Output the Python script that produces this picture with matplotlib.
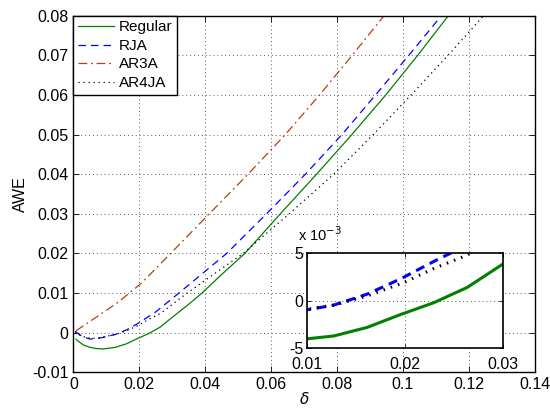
import matplotlib
matplotlib.use("Agg")
import matplotlib.pyplot as plt
from matplotlib.ticker import FuncFormatter

plt.rcParams['font.family'] = ['Liberation Sans', 'DejaVu Sans']
plt.rcParams['mathtext.fontset'] = 'dejavusans'

# ---------------- data ----------------
regular_x = [0.0008, 0.002, 0.003, 0.005, 0.007, 0.009, 0.010, 0.0127, 0.0161, 0.0195,
             0.0229, 0.0263, 0.030, 0.035, 0.039, 0.045, 0.052, 0.0628, 0.0738, 0.0845,
             0.0948, 0.1045, 0.1138]
regular_y = [-0.0017, -0.0025, -0.0031, -0.0037, -0.0040, -0.0041, -0.0040, -0.0037, -0.0028, -0.00145,
             -0.0002, 0.0014, 0.0039, 0.0072, 0.0100, 0.0147, 0.0200, 0.0300, 0.0400, 0.0500,
             0.0600, 0.0700, 0.0800]

rja_x = [0.0005, 0.002, 0.003, 0.005, 0.007, 0.009, 0.010, 0.0127, 0.0161, 0.0195,
         0.0219, 0.0232, 0.0246, 0.0320, 0.0465, 0.0586, 0.0704, 0.0815, 0.0917, 0.1018, 0.1117]
rja_y = [0.0003, -0.0006, -0.0011, -0.0016, -0.0015, -0.0012, -0.00095, -0.00045, 0.0007, 0.0023,
         0.0036, 0.0043, 0.0050, 0.0100, 0.0200, 0.0300, 0.0400, 0.0500, 0.0600, 0.0700, 0.0800]

ar3a_x = [0.0008, 0.0131, 0.0205, 0.0295, 0.0412, 0.0530, 0.0643, 0.0747, 0.0846, 0.0943]
ar3a_y = [0.0005, 0.0074, 0.0124, 0.0200, 0.0300, 0.0400, 0.0500, 0.0600, 0.0700, 0.0800]

ar4ja_x = [0.0005, 0.002, 0.003, 0.005, 0.007, 0.009, 0.010, 0.0127, 0.0161, 0.0198,
           0.0229, 0.0263, 0.0345, 0.0515, 0.0655, 0.0790, 0.0910, 0.1025, 0.1137, 0.1245]
ar4ja_y = [0.0003, -0.0006, -0.0010, -0.0014, -0.0014, -0.0011, -0.0009, -0.00045, 0.0005, 0.0019,
           0.0034, 0.0048, 0.0100, 0.0200, 0.0300, 0.0400, 0.0500, 0.0600, 0.0700, 0.0800]

labels = ['Regular', 'RJA', 'AR3A', 'AR4JA']
x_ticks = [0, 0.02, 0.04, 0.06, 0.08, 0.1, 0.12, 0.14]
y_ticks = [-0.01, 0, 0.01, 0.02, 0.03, 0.04, 0.05, 0.06, 0.07, 0.08]
inset_x_ticks = [0.01, 0.02, 0.03]
inset_y_ticks = [-0.005, 0, 0.005]

# ---------------- styling ----------------
c_green = '#008000'
c_blue = '#0000ff'
c_brown = '#b5400f'
c_black = '#000000'
TICK_FS = 11.5

series = [
    (regular_x, regular_y, c_green, '-'),
    (rja_x, rja_y, c_blue, (0, (6, 4))),
    (ar3a_x, ar3a_y, c_brown, (0, (7, 3, 1.5, 3))),
    (ar4ja_x, ar4ja_y, c_black, (0, (1, 3))),
]

fig = plt.figure(figsize=(5.5, 4.09), dpi=100)
ax = fig.add_axes([0.1336, 0.0897, 0.8385, 0.8719])

for (xs, ys, col, ls), lab in zip(series, labels):
    ax.plot(xs, ys, color=col, linestyle=ls, linewidth=0.9, label=lab)

ax.set_xlim(0, 0.14)
ax.set_ylim(-0.01, 0.08)
ax.set_xticks(x_ticks)
ax.set_yticks(y_ticks)
fmt = FuncFormatter(lambda v, p: '%g' % round(v, 4))
ax.xaxis.set_major_formatter(fmt)
ax.yaxis.set_major_formatter(fmt)
ax.tick_params(direction='in', top=True, right=True, labelsize=TICK_FS, length=4, width=0.6)
ax.grid(True, linestyle=(0, (1, 3)), color='0.35', linewidth=0.7)
for s in ax.spines.values():
    s.set_linewidth(1.0)
ax.set_xlabel(r'$\delta$', fontsize=11, labelpad=-1)
ax.set_ylabel('AWE', fontsize=11.5, labelpad=3)

leg = ax.legend(loc='upper left', fontsize=11, fancybox=False, framealpha=1,
                edgecolor='black', borderaxespad=0, handlelength=2.35,
                handletextpad=0.3, labelspacing=0.3, borderpad=0.3)
leg.get_frame().set_linewidth(1.0)

# ---------------- inset ----------------
axi = fig.add_axes([0.5588, 0.1484, 0.3564, 0.2323])
for (xs, ys, col, ls) in series:
    if ls == '-':
        lsi = '-'
    elif col == c_blue:
        lsi = (0, (3, 2))
    elif col == c_black:
        lsi = (0, (0.5, 2))
    else:
        lsi = ls
    axi.plot(xs, ys, color=col, linestyle=lsi, linewidth=2.2)
axi.set_xlim(0.01, 0.03)
axi.set_ylim(-0.005, 0.005)
axi.set_xticks(inset_x_ticks)
axi.set_yticks(inset_y_ticks)
axi.xaxis.set_major_formatter(fmt)
axi.yaxis.set_major_formatter(FuncFormatter(lambda v, p: '%g' % round(v * 1000, 3)))
axi.tick_params(direction='in', top=True, right=True, labelsize=TICK_FS, length=3, width=0.6)
axi.tick_params(axis='x', pad=6)
axi.tick_params(axis='y', pad=3)
axi.grid(True, linestyle=(0, (1, 3)), color='0.35', linewidth=0.7)
for s in axi.spines.values():
    s.set_linewidth(1.2)
axi.text(-0.05, 1.1, r'x 10$^{-3}$', transform=axi.transAxes, fontsize=10.5,
         ha='left', va='bottom')

fig.savefig('out.png', dpi=100)
